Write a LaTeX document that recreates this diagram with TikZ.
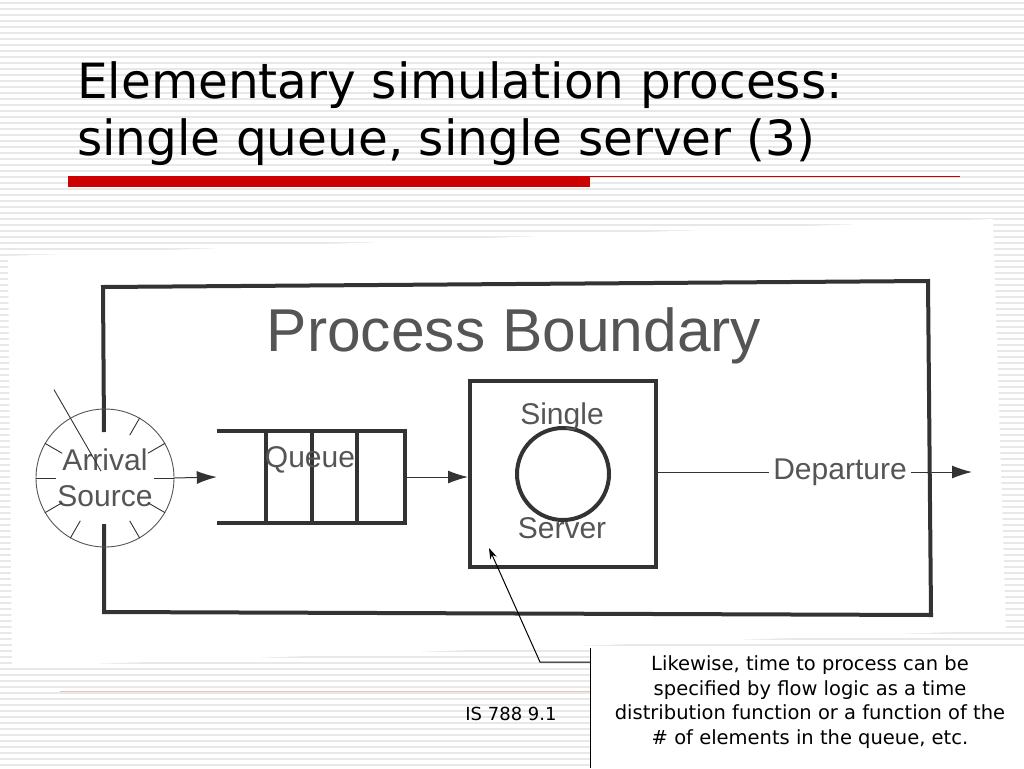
\documentclass[tikz,border=0pt]{standalone}
\usepackage{fontspec}
\setmainfont{DejaVu Sans}
\newfontfamily\scanfont{Liberation Sans}
\usetikzlibrary{positioning,arrows.meta}
\definecolor{slidered}{HTML}{CC0000}
\definecolor{scanink}{HTML}{333333}
\definecolor{scantext}{HTML}{555555}
\tikzset{stripe/.style={gray!18,line width=2pt},
  scanline/.style={scanink,line width=4pt},
  thinink/.style={scanink,line width=0.9pt},
  scanlabel/.style={scantext,font=\scanfont\fontsize{30}{36}\selectfont,align=center,inner sep=0pt},
  flow/.style={scanink,line width=1pt,-{Latex[length=20pt,width=13pt]}},
  pointer/.style={black,line width=1pt,-{Stealth[length=11pt,width=7pt]}},
  notetext/.style={font=\fontsize{19.5}{24.5}\selectfont,align=center,inner sep=0pt}}
\begin{document}
\begin{tikzpicture}[x=1pt,y=-1pt]
  \useasboundingbox (0,0) rectangle (1024,768);
  \fill[white] (0,0) rectangle (1024,768);
  \foreach \y in {3,9,...,765} \draw[stripe] (0,\y) -- (1024,\y);

  % title and rule
  \node[anchor=base west,inner sep=0pt,font=\fontsize{48.5}{57}\selectfont] (title1) at (77,98) {Elementary simulation process:};
  \node[anchor=base west,inner sep=0pt,font=\fontsize{48.5}{57}\selectfont] (title2) at (77,155) {single queue, single server (3)};
  \fill[slidered] (68,176) rectangle (590,187);
  \draw[slidered,line width=0.8pt] (590,176.4) -- (960,176.4);
  \draw[slidered!25,line width=0.8pt] (60,691) -- (590,691);

  % scanned figure
  \fill[white] (8,256) -- (993,219) -- (1006,630) -- (12,667) -- cycle;
  \draw[scanline] (104,432) -- (103,287) -- (928,281) -- (931,615) -- (104,612) -- (104,524);
  \node[scanlabel,font=\scanfont\fontsize{60.5}{62}\selectfont,anchor=base] (boundary) at (514,351) {Process Boundary};

  \node[circle,draw=scanink,line width=0.9pt,minimum size=138pt,scanlabel] (arrival) at (105,478) {Arrival\\Source};
  \foreach \a in {0,30,60,150,180,210,240,300,330}
    \draw[thinink] (arrival.\a) -- +(\a+180:20pt);
  \draw[thinink] (arrival.center) ++(120:8pt) -- ++(120:94pt);

  \node[minimum width=188pt,minimum height=92pt,inner sep=0pt] (queue) at (311,477) {};
  \draw[scanline] (queue.north west) -- (queue.north east) -- (queue.south east) -- (queue.south west);
  \foreach \x in {266,312,357} \draw[scanline] (\x,431) -- (\x,523);
  \node[scanlabel,anchor=base] (queuelabel) at (310,467) {Queue};

  \node[draw=scanink,line width=4pt,minimum size=186pt,inner sep=0pt] (serverbox) at (563,474) {};
  \node[circle,draw=scanink,line width=4pt,minimum size=92pt,inner sep=0pt] (server) at (563,474) {};
  \node[scanlabel] (single) at (562,417) {Single};
  \node[scanlabel] (servername) at (562,528) {Server};
  \node[scanlabel,inner sep=4pt] (depart) at (840,472) {Departure};
  \coordinate (exit) at (972,472);

  \draw[flow] (arrival.east) -- (queue.west);
  \draw[flow] (queue.east) -- (queue.east -| serverbox.west);
  \draw[thinink] (serverbox.east |- depart.west) -- (depart.west);
  \draw[flow] (depart.east) -- (exit);

  % callout
  \fill[white] (590,648) rectangle (1024,768);
  \draw[black,line width=1pt] (590,648) -- (590,768);
  \node[notetext] (note) at (810,702) {Likewise, time to process can be\\specified by flow logic as a time\\distribution function or a function of the\\\# of elements in the queue, etc.};
  \coordinate (foot) at (590,662);
  \coordinate (elbow) at (540,662);
  \coordinate (tip) at (489,548);
  \draw[pointer] (foot) -- (elbow) -- (tip);
  \node[font=\fontsize{18}{20}\selectfont,inner sep=0pt] (slideno) at (511,714) {IS 788 9.1};
\end{tikzpicture}
\end{document}
